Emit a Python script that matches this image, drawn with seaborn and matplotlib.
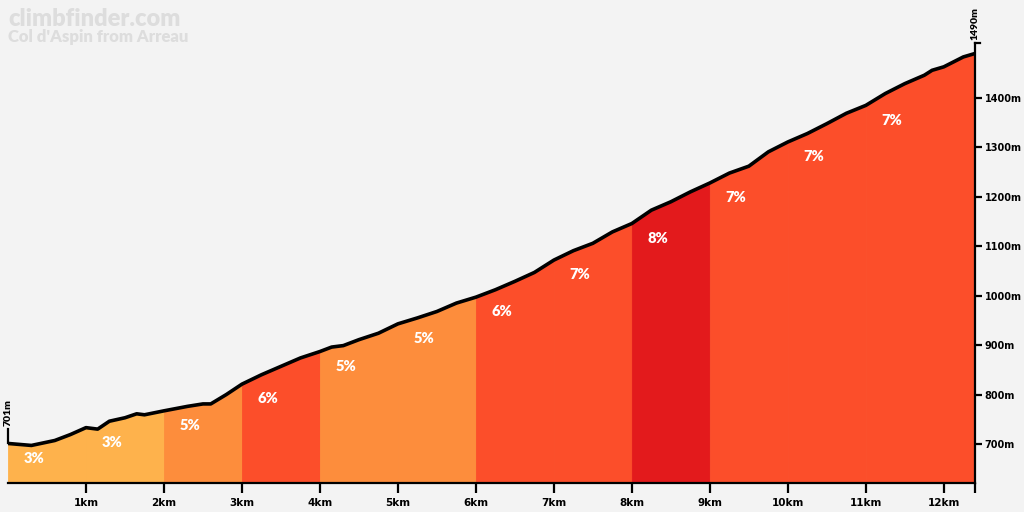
import numpy as np
import pandas as pd
import matplotlib
matplotlib.use('Agg')
import matplotlib.pyplot as plt
import seaborn as sns

# profile (km, m)
distance = [0.0, 0.3, 0.6, 0.8, 1.0, 1.15, 1.3, 1.5, 1.65, 1.75, 2.0, 2.3, 2.5, 2.6, 2.8,
            3.0, 3.25, 3.5, 3.75, 4.0, 4.15, 4.3, 4.5, 4.75, 5.0, 5.25, 5.5, 5.75,
            6.0, 6.25, 6.5, 6.75, 7.0, 7.25, 7.5, 7.75, 8.0, 8.25, 8.5, 8.75,
            9.0, 9.25, 9.5, 9.75, 10.0, 10.25, 10.5, 10.75, 11.0, 11.25, 11.5, 11.75,
            11.85, 12.0, 12.25, 12.4]
elevation = [701, 697, 707, 719, 733, 730, 746, 753, 761, 759, 767, 776, 781, 781, 800,
             821, 840, 857, 874, 887, 896, 899, 911, 924, 943, 955, 968, 985,
             997, 1012, 1029, 1047, 1072, 1091, 1106, 1129, 1146, 1173, 1190, 1210,
             1228, 1248, 1262, 1291, 1311, 1328, 1348, 1369, 1385, 1409, 1429, 1446,
             1456, 1463, 1483, 1490]

seg_start = [0, 1, 2, 3, 4, 5, 6, 7, 8, 9, 10, 11]
seg_end = [1, 2, 3, 4, 5, 6, 7, 8, 9, 10, 11, 12.4]
seg_grade = [3, 3, 5, 6, 5, 5, 6, 7, 8, 7, 7, 7]

grade_colors = {3: '#FEB24C', 5: '#FD8D3C', 6: '#FC4E2A', 7: '#FC4E2A', 8: '#E31A1C'}

df = pd.DataFrame({'km': distance, 'elev': elevation})

bg = '#f3f3f3'
fig = plt.figure(figsize=(10.24, 5.12), dpi=100, facecolor=bg)
ax = fig.add_axes([8 / 1024, 29 / 512, 967 / 1024, 474 / 512], facecolor=bg)
plt.rcParams['font.family'] = ['Lato', 'DejaVu Sans']
heavy = 'heavy'

x = np.array(distance)
y = np.array(elevation)
bottom = 621
top = 1580

# coloured segments
for s, e, g in zip(seg_start, seg_end, seg_grade):
    c = grade_colors[g]
    ax.fill_between(x, bottom, y, where=(x >= s) & (x <= e), facecolor=c,
                    edgecolor=c, linewidth=0.6, zorder=1)
    ystart = np.interp(s, x, y)
    ax.text(s + 0.2, ystart - 30, f'{g}%', color='white', fontsize=10.5,
            fontweight=heavy, ha='left', va='center', zorder=3)

sns.lineplot(data=df, x='km', y='elev', color='black', linewidth=2.6, ax=ax, zorder=4)

ax.set_xlim(0, 12.4)
ax.set_ylim(bottom, top)
ax.set_xlabel('')
ax.set_ylabel('')

for side in ['top', 'left']:
    ax.spines[side].set_visible(False)
ax.spines['bottom'].set_linewidth(1.6)
ax.spines['right'].set_linewidth(1.6)
ax.spines['right'].set_bounds(bottom, elevation[-1] + 22)

xt = list(range(1, 13)) + [12.4]
ax.set_xticks(xt)
ax.set_xticklabels([f'{k}km' for k in range(1, 13)] + [''])
ax.tick_params(axis='x', direction='out', length=7, width=1.6, pad=4,
               labelsize=7.5, colors='black')
for lbl in ax.get_xticklabels():
    lbl.set_fontweight(heavy)

ax.yaxis.tick_right()
yt = [700, 800, 900, 1000, 1100, 1200, 1300, 1400]
ax.set_yticks(yt)
ax.set_yticklabels([f'{v}m' for v in yt])
ax.tick_params(axis='y', direction='out', length=5, width=1.6, pad=2,
               labelsize=7, colors='black')
for lbl in ax.get_yticklabels():
    lbl.set_fontweight(heavy)
ax.grid(False)

# start / end markers
ax.plot([0, 0], [elevation[0], elevation[0] + 30], color='black', lw=1.6,
        clip_on=False, zorder=5)
ax.text(0, elevation[0] + 36, f'{elevation[0]}m', rotation=90, ha='center', va='bottom',
        fontsize=7.5, fontweight=heavy)
ax.plot([12.4, 12.4 + 0.06], [elevation[-1] + 22, elevation[-1] + 22], color='black',
        lw=1.6, clip_on=False, zorder=5)
ax.text(12.4, elevation[-1] + 28, f'{elevation[-1]}m', rotation=90, ha='center',
        va='bottom', fontsize=7.5, fontweight=heavy)

fig.text(8 / 1024, 1 - 19 / 512, 'climbfinder.com', color='#dddddd', fontsize=17,
         fontweight=heavy, va='center', ha='left')
fig.text(8 / 1024, 1 - 37 / 512, "Col d'Aspin from Arreau", color='#dddddd',
         fontsize=12, fontweight=heavy, va='center', ha='left')

fig.savefig('out.png', dpi=100, facecolor=bg)
